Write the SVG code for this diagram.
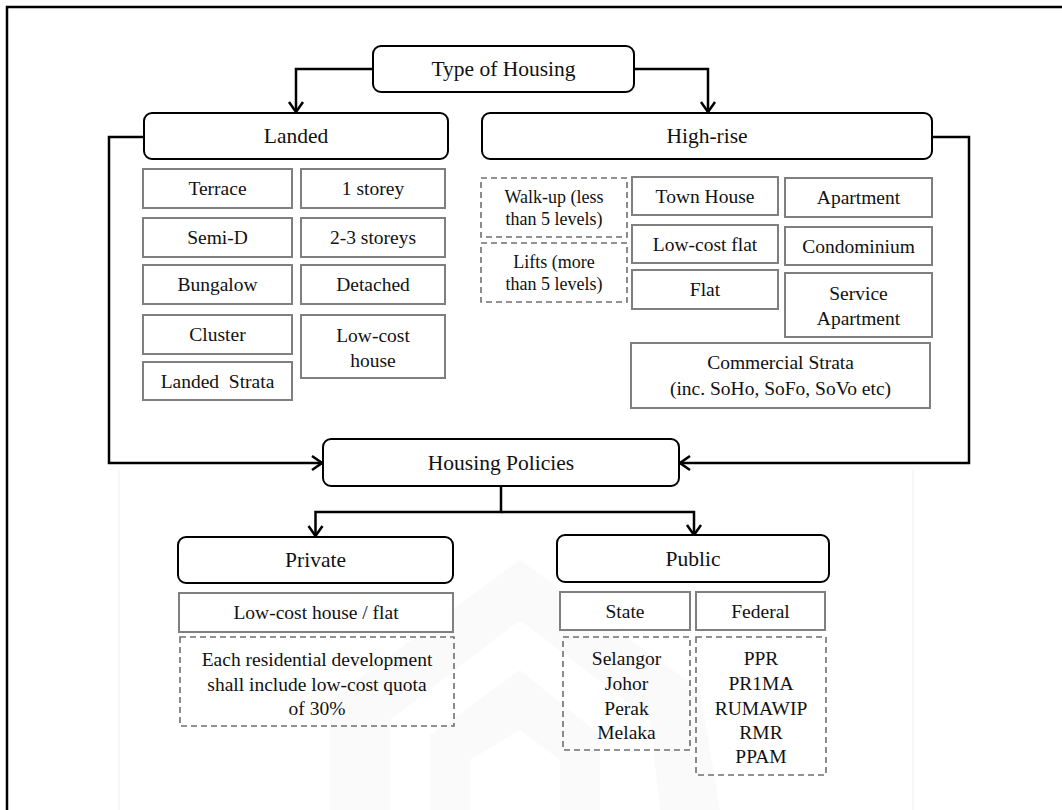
<svg xmlns="http://www.w3.org/2000/svg" width="1062" height="810" viewBox="0 0 1062 810" font-family="'Liberation Serif', 'DejaVu Serif', 'Times New Roman', serif">
  <style>
    .title { fill: #fff; stroke: #000; stroke-width: 2; }
    .item { fill: #fff; stroke: #7f7f7f; stroke-width: 2; }
    .note { fill: none; stroke: #6f6f6f; stroke-width: 1.6; stroke-dasharray: 6 4; }
    .wire { fill: none; stroke: #000; stroke-width: 2.5; }
    text { font-family: 'Liberation Serif', 'DejaVu Serif', 'Times New Roman', serif; fill: #111; text-anchor: middle; dominant-baseline: central; }
    .t1 { font-size: 21.5px; }
    .t2 { font-size: 19.5px; }
    .t3 { font-size: 18px; }
    .wm { fill: #fafafa; stroke: none; }
  </style>
  <defs>
    <marker id="arrow" viewBox="-12 -9 14 18" markerWidth="14" markerHeight="18" refX="0" refY="0" orient="auto" markerUnits="userSpaceOnUse">
      <path d="M-10,-7 L0,0 L-10,7" fill="none" stroke="#000" stroke-width="2.5"/>
    </marker>
  </defs>

  <rect width="1062" height="810" fill="#fff"/>

  <!-- faint background emblem -->
  <g id="emblem">
    <line x1="119" y1="470" x2="119" y2="810" stroke="#f5f5f5" stroke-width="1.5"/>
    <line x1="913" y1="470" x2="913" y2="810" stroke="#f5f5f5" stroke-width="1.5"/>
    <path class="wm" d="M330,810 L330,700 L520,560 L700,690 L720,810 L660,810 L650,720 L520,620 L390,720 L390,810 Z"/>
    <path class="wm" d="M430,810 L430,735 L520,670 L600,735 L600,810 L560,810 L560,760 L520,730 L470,760 L470,810 Z"/>
  </g>

  <!-- page frame -->
  <path d="M7,810 V7 H1062" fill="none" stroke="#000" stroke-width="2.5"/>

  <!-- connectors -->
  <g id="connectors">
    <path class="wire" d="M373,69 H296 V112" marker-end="url(#arrow)"/>
    <path class="wire" d="M634,69 H708 V112" marker-end="url(#arrow)"/>
    <path class="wire" d="M144,137 H109 V463 H322" marker-end="url(#arrow)"/>
    <path class="wire" d="M932,137 H969 V463 H680" marker-end="url(#arrow)"/>
    <path class="wire" d="M501,486 V512 H315.5 V536" marker-end="url(#arrow)"/>
    <path class="wire" d="M501,512 H694 V535" marker-end="url(#arrow)"/>
  </g>

  <!-- top level -->
  <g id="type-of-housing">
    <rect class="title" x="373" y="46" width="261" height="46" rx="8"/>
    <text class="t1" x="503.5" y="69">Type of Housing</text>
  </g>

  <g id="landed">
    <rect class="title" x="144" y="113" width="304" height="46" rx="8"/>
    <text class="t1" x="296" y="136">Landed</text>
  </g>

  <g id="high-rise">
    <rect class="title" x="482" y="113" width="450" height="46" rx="8"/>
    <text class="t1" x="707" y="136">High-rise</text>
  </g>

  <!-- landed types -->
  <g id="terrace"><rect class="item" x="143" y="169" width="149" height="39"/><text class="t2" x="217.5" y="188.5">Terrace</text></g>
  <g id="one-storey"><rect class="item" x="301" y="169" width="144" height="39"/><text class="t2" x="373" y="188.5">1 storey</text></g>
  <g id="semi-d"><rect class="item" x="143" y="218" width="149" height="39"/><text class="t2" x="217.5" y="237.5">Semi-D</text></g>
  <g id="two-three-storeys"><rect class="item" x="301" y="218" width="144" height="39"/><text class="t2" x="373" y="237.5">2-3 storeys</text></g>
  <g id="bungalow"><rect class="item" x="143" y="265" width="149" height="39"/><text class="t2" x="217.5" y="284.5">Bungalow</text></g>
  <g id="detached"><rect class="item" x="301" y="265" width="144" height="39"/><text class="t2" x="373" y="284.5">Detached</text></g>
  <g id="cluster"><rect class="item" x="143" y="315" width="149" height="39"/><text class="t2" x="217.5" y="334">Cluster</text></g>
  <g id="low-cost-house"><rect class="item" x="301" y="315" width="144" height="63"/><text class="t2" x="373" y="335">Low-cost</text><text class="t2" x="373" y="360">house</text></g>
  <g id="landed-strata"><rect class="item" x="143" y="362" width="149" height="38"/><text class="t2" x="217.5" y="381" xml:space="preserve">Landed  Strata</text></g>

  <!-- high-rise types -->
  <g id="walk-up"><rect class="note" x="481" y="178" width="146" height="59"/><text class="t3" x="554" y="197">Walk-up (less</text><text class="t3" x="554" y="219">than 5 levels)</text></g>
  <g id="lifts"><rect class="note" x="481" y="243" width="146" height="59"/><text class="t3" x="554" y="262">Lifts (more</text><text class="t3" x="554" y="284">than 5 levels)</text></g>
  <g id="town-house"><rect class="item" x="632" y="177" width="146" height="38"/><text class="t2" x="705" y="196">Town House</text></g>
  <g id="apartment"><rect class="item" x="785" y="178" width="147" height="39"/><text class="t2" x="858.5" y="197.5">Apartment</text></g>
  <g id="low-cost-flat"><rect class="item" x="632" y="225" width="146" height="38"/><text class="t2" x="705" y="244">Low-cost flat</text></g>
  <g id="condominium"><rect class="item" x="785" y="227" width="147" height="38"/><text class="t2" x="858.5" y="246">Condominium</text></g>
  <g id="flat"><rect class="item" x="632" y="270" width="146" height="39"/><text class="t2" x="705" y="289">Flat</text></g>
  <g id="service-apartment"><rect class="item" x="785" y="273" width="147" height="64"/><text class="t2" x="858.5" y="293">Service</text><text class="t2" x="858.5" y="318">Apartment</text></g>
  <g id="commercial-strata"><rect class="item" x="631" y="343" width="299" height="65"/><text class="t2" x="780.5" y="362">Commercial Strata</text><text class="t2" x="780.5" y="388">(inc. SoHo, SoFo, SoVo etc)</text></g>

  <!-- policies -->
  <g id="housing-policies">
    <rect class="title" x="323" y="439" width="356" height="47" rx="8"/>
    <text class="t1" x="501" y="462.5">Housing Policies</text>
  </g>

  <g id="private">
    <rect class="title" x="178" y="537" width="275" height="46" rx="8"/>
    <text class="t1" x="315.5" y="560">Private</text>
  </g>

  <g id="public">
    <rect class="title" x="557" y="535" width="272" height="47" rx="8"/>
    <text class="t1" x="693" y="558.5">Public</text>
  </g>

  <g id="low-cost-house-flat"><rect class="item" x="179" y="593" width="274" height="39"/><text class="t2" x="316" y="612.5">Low-cost house / flat</text></g>
  <g id="quota-note">
    <rect class="note" x="180" y="637" width="274" height="89"/>
    <text class="t2" x="317" y="659">Each residential development</text>
    <text class="t2" x="317" y="684">shall include low-cost quota</text>
    <text class="t2" x="317" y="708">of 30%</text>
  </g>

  <g id="state"><rect class="item" x="560" y="592" width="130" height="38"/><text class="t2" x="625" y="611">State</text></g>
  <g id="federal"><rect class="item" x="696" y="592" width="129" height="38"/><text class="t2" x="760.5" y="611">Federal</text></g>

  <g id="state-list">
    <rect class="note" x="563" y="637" width="127" height="113"/>
    <text class="t2" x="626.5" y="658">Selangor</text>
    <text class="t2" x="626.5" y="683">Johor</text>
    <text class="t2" x="626.5" y="708">Perak</text>
    <text class="t2" x="626.5" y="732">Melaka</text>
  </g>

  <g id="federal-list">
    <rect class="note" x="696" y="637" width="130" height="138"/>
    <text class="t2" x="761" y="658">PPR</text>
    <text class="t2" x="761" y="683">PR1MA</text>
    <text class="t2" x="761" y="708">RUMAWIP</text>
    <text class="t2" x="761" y="732">RMR</text>
    <text class="t2" x="761" y="756">PPAM</text>
  </g>
</svg>
